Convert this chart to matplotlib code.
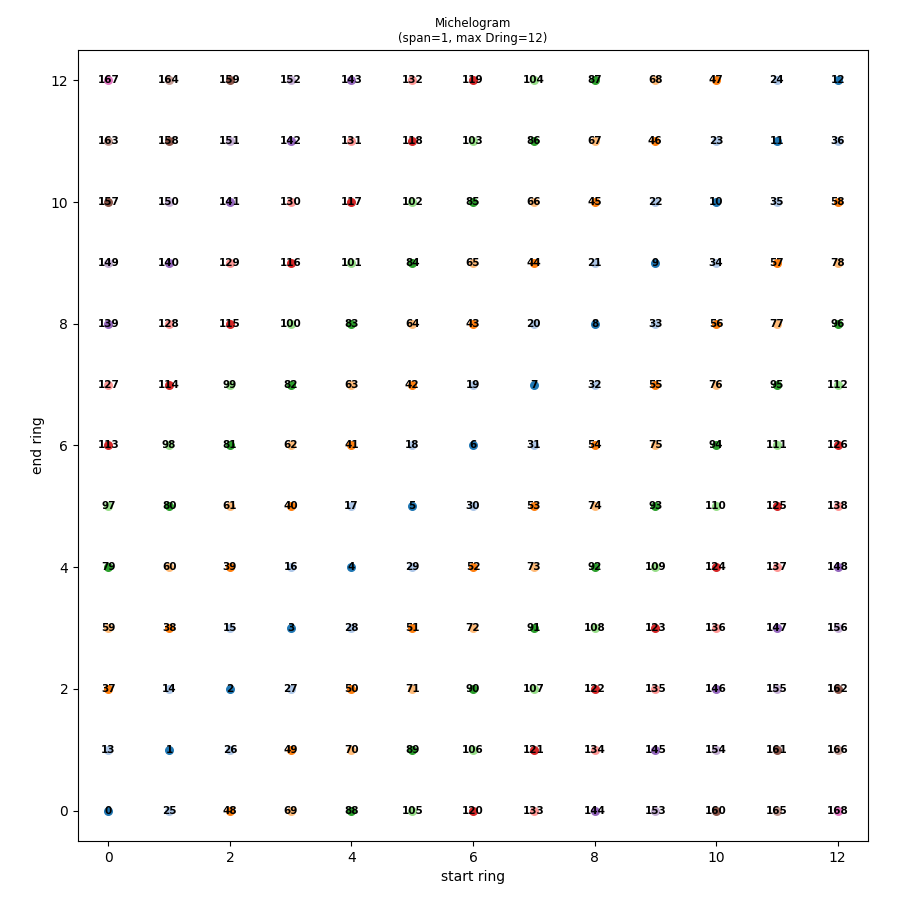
import matplotlib
matplotlib.use("Agg")
import matplotlib.pyplot as plt
import numpy as np

rings = list(range(13))
# sinogram index labels, rows from end ring 12 (top) down to end ring 0
labels_top_to_bottom = [
    [167, 164, 159, 152, 143, 132, 119, 104, 87, 68, 47, 24, 12],
    [163, 158, 151, 142, 131, 118, 103, 86, 67, 46, 23, 11, 36],
    [157, 150, 141, 130, 117, 102, 85, 66, 45, 22, 10, 35, 58],
    [149, 140, 129, 116, 101, 84, 65, 44, 21, 9, 34, 57, 78],
    [139, 128, 115, 100, 83, 64, 43, 20, 8, 33, 56, 77, 96],
    [127, 114, 99, 82, 63, 42, 19, 7, 32, 55, 76, 95, 112],
    [113, 98, 81, 62, 41, 18, 6, 31, 54, 75, 94, 111, 126],
    [97, 80, 61, 40, 17, 5, 30, 53, 74, 93, 110, 125, 138],
    [79, 60, 39, 16, 4, 29, 52, 73, 92, 109, 124, 137, 148],
    [59, 38, 15, 3, 28, 51, 72, 91, 108, 123, 136, 147, 156],
    [37, 14, 2, 27, 50, 71, 90, 107, 122, 135, 146, 155, 162],
    [13, 1, 26, 49, 70, 89, 106, 121, 134, 145, 154, 161, 166],
    [0, 25, 48, 69, 88, 105, 120, 133, 144, 153, 160, 165, 168],
]

fig = plt.figure(figsize=(9, 9), dpi=100)
ax = fig.add_axes([0.0867, 0.0656, 0.8777, 0.8788])
cmap = plt.get_cmap("tab20")

n = len(rings)
for row_i, row in enumerate(labels_top_to_bottom):
    end = rings[n - 1 - row_i]
    for start, lab in zip(rings, row):
        d = abs(end - start)
        ax.scatter(start, end, s=30, color=cmap(d % 20), zorder=2)
        ax.text(start, end, str(lab), ha="center", va="center",
                fontsize=7.5, fontweight="bold", color="black", zorder=3)

ax.set_xlim(-0.5, 12.5)
ax.set_ylim(-0.5, 12.5)
ax.set_xticks([0, 2, 4, 6, 8, 10, 12])
ax.set_yticks([0, 2, 4, 6, 8, 10, 12])
ax.set_xlabel("start ring")
ax.set_ylabel("end ring")
ax.set_title("Michelogram\n(span=1, max Dring=12)", fontsize=8.5)

fig.savefig("out.png", dpi=100)
